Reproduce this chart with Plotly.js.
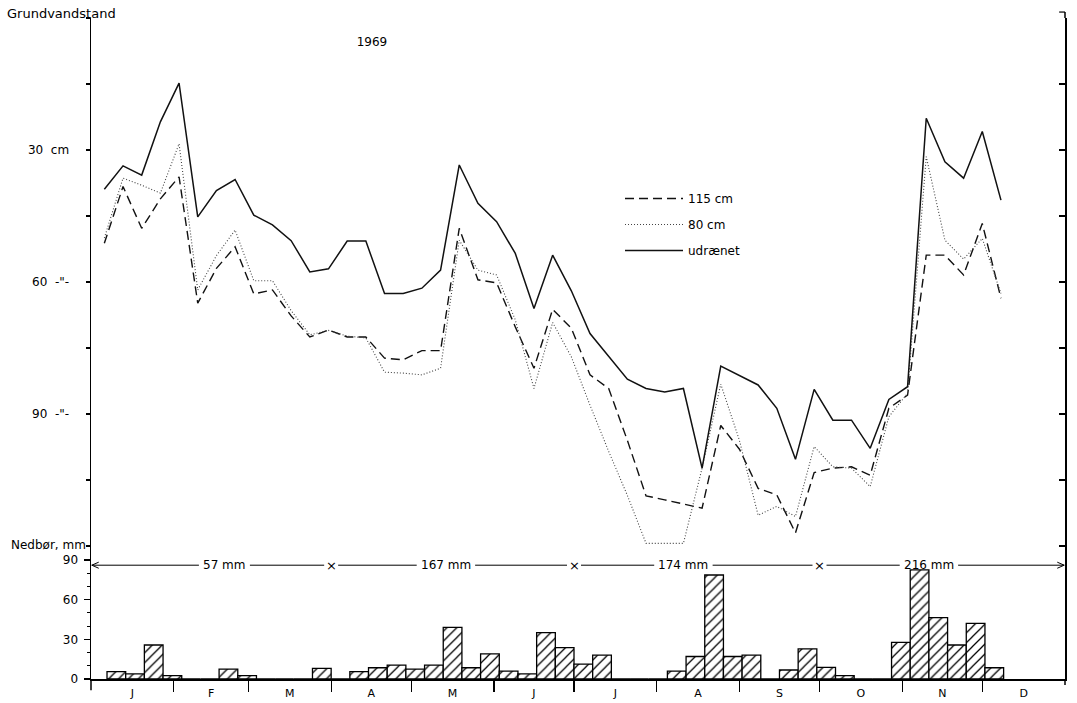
<!DOCTYPE html>
<html><head><meta charset="utf-8">
<script src="https://cdn.plot.ly/plotly-3.0.1.min.js"></script>
<style>html,body{margin:0;padding:0;background:#fff;}#chart{width:1077px;height:703px;}</style>
</head><body><div id="chart"></div>
<script>
// ---------- data ----------
const months = ['J','F','M','A','M','J','J','A','S','O','N','D'];
const monthStarts = [0,31,59,90,120,151,181,212,243,273,304,334,365];

// weekly groundwater readings (day of year 1969), depth below surface in cm
const levelDays = [5,12,19,26,33,40,47,54,61,68,75,82,89,96,103,110,117,124,131,138,145,152,159,166,173,180,187,194,201,208,215,222,229,236,243,250,257,264,271,278,285,292,299,306,313,320,327,334,341];
const depth115 = [51.2,38.3,47.8,41.1,36.1,64.8,56.9,52.0,62.7,61.8,67.7,72.5,70.9,72.5,72.5,77.3,77.7,75.6,75.6,47.8,59.5,60.2,70.2,79.6,66.2,70.5,81.1,84.2,96.0,108.6,109.5,110.5,111.4,92.6,98.0,106.9,108.4,117.0,103.3,102.3,102.0,103.9,88.7,85.7,53.9,53.9,58.4,46.7,63.7];
const depth80 = [50.0,36.4,38.0,39.8,28.6,61.8,54.0,48.2,59.7,59.7,66.5,72.0,71.0,72.3,72.7,80.5,80.7,81.1,79.6,50.5,57.3,58.4,68.6,84.2,69.2,77.0,88.0,98.5,108.5,119.4,119.4,119.4,102.3,83.2,96.0,113.0,111.0,113.3,97.4,102.0,102.3,106.5,90.6,85.3,31.5,50.5,54.8,50.1,62.6];
const undrained = [38.9,33.6,35.7,23.6,14.8,45.2,39.2,36.7,44.8,47.0,50.6,57.7,57.0,50.7,50.7,62.6,62.6,61.4,57.3,33.4,42.1,46.3,53.5,66.0,53.9,62.0,71.7,77.0,82.1,84.2,85.0,84.2,102.3,79.1,81.3,83.4,88.7,100.3,84.4,91.4,91.4,97.8,86.7,83.8,22.8,32.7,36.4,25.8,41.4];
const seriesNames = ['115 cm','80 cm','udrænet'];

// weekly precipitation (week start day, mm)
const rainWeekStarts = [6,13,20,27,34,41,48,55,62,69,76,83,90,97,104,111,118,125,132,139,146,153,160,167,174,181,188,195,202,209,216,223,230,237,244,251,258,265,272,279,286,293,300,307,314,321,328,335];
const rainMm = [5.5,3.8,25.7,2.5,0,0,7.5,2.5,0,0, 0,8,0,5.5,8.5,10.5,7.5,10.5,39,8.5, 19,6,3.8,35,23.7,11.3,18,0,0,0, 6,17,78.6,17,18,0,6.8,22.7,8.8,2.5, 0,0,27.7,82.4,46.4,25.7,42,8.5];

const quarterEnds = [90,181,273];
const quarterTotals = ['57 mm','167 mm','174 mm','216 mm'];

const levelTickVals = [0,15,30,45,60,75,90,105,120];
const levelTickText = ['','','30  cm','','60  -"-','','90  -"-','',''];
const rainTickVals = [0,30,60,90];
const rainMinorVals = [10,20,40,50,70,80];

// ---------- layout constants ----------
const FONT = 'DejaVu Sans, sans-serif';
const W = 1077, H = 703, ML = 91, MR = 12, MT = 18, MB = 24;
const plotW = W - ML - MR, plotH = H - MT - MB;
const pxPerDay = plotW / 365;
const barPanelPx = 131;
const splitFrac = barPanelPx / plotH;
const topRangeMax = 120.45;
const qLineY = 86;
const qLabelDays = [50,133,222,314];

const monthMids = months.map((m,i)=> (monthStarts[i]+monthStarts[i+1])/2);

const traces = [
  {x: levelDays, y: depth115, name: seriesNames[0], type:'scatter', mode:'lines',
   line:{color:'#111', width:1.4, dash:'9px,5px'}, xaxis:'x', yaxis:'y', legendgroup:'a'},
  {x: levelDays, y: depth80, name: seriesNames[1], type:'scatter', mode:'lines',
   line:{color:'#444', width:1.1, dash:'1px,2px'}, xaxis:'x', yaxis:'y', legendgroup:'b'},
  {x: levelDays, y: undrained, name: seriesNames[2], type:'scatter', mode:'lines',
   line:{color:'#111', width:1.5}, xaxis:'x', yaxis:'y', legendgroup:'c'},
  {x: rainWeekStarts, y: rainMm, type:'bar', offset:0, width:7, xaxis:'x', yaxis:'y2',
   showlegend:false, hoverinfo:'x+y',
   marker:{color:'#fff', line:{color:'#000', width:1.3},
     pattern:{shape:'/', size:7, solidity:0.18, fgcolor:'#000', bgcolor:'#fff'}}},
  {x:[null], y:[null], xaxis:'x', yaxis:'y3', showlegend:false, hoverinfo:'skip', type:'scatter'}
];

// quarter arrow line segments
const breaks = [];
quarterTotals.forEach((t,i)=> breaks.push({c:qLabelDays[i], h:(t.length*7.4/2+7)/pxPerDay}));
quarterEnds.forEach(d=> breaks.push({c:d, h:7/pxPerDay}));
breaks.sort((a,b)=>a.c-b.c);
const shapes = [];
let start = 0.3;
breaks.forEach(b=>{
  shapes.push({type:'line', xref:'x', yref:'y2', x0:start, x1:b.c-b.h, y0:qLineY, y1:qLineY, line:{color:'#000', width:1}});
  start = b.c + b.h;
});
shapes.push({type:'line', xref:'x', yref:'y2', x0:start, x1:364.7, y0:qLineY, y1:qLineY, line:{color:'#000', width:1}});
// arrowheads
const ah = 2.6, av = 2.3;
shapes.push({type:'path', xref:'x', yref:'y2', path:`M${0.3+ah},${qLineY+av} L0.3,${qLineY} L${0.3+ah},${qLineY-av}`, line:{color:'#000', width:1}});
shapes.push({type:'path', xref:'x', yref:'y2', path:`M${364.7-ah},${qLineY+av} L364.7,${qLineY} L${364.7-ah},${qLineY-av}`, line:{color:'#000', width:1}});
// axis extensions below baseline / above top
shapes.push({type:'line', xref:'paper', yref:'paper', x0:0, x1:0, y0:0, y1:-0.017, line:{color:'#000', width:1.5}});
shapes.push({type:'line', xref:'paper', yref:'paper', x0:1, x1:1, y0:0, y1:-0.009, line:{color:'#000', width:1.5}});
shapes.push({type:'line', xref:'paper', yref:'paper', x0:1, x1:1, y0:1, y1:1.009, line:{color:'#000', width:1.5}});
shapes.push({type:'line', xref:'paper', yref:'paper', x0:1, x1:0.994, y0:1.009, y1:1.009, line:{color:'#000', width:1.2}});

const annotations = [
  {text:'Grundvandstand', xref:'paper', yref:'paper', x:(5-ML)/plotW, y:(H-MB-14)/plotH, xanchor:'left', yanchor:'middle', showarrow:false, font:{family:FONT, size:13, color:'#000'}},
  {text:'Nedbør, mm', xref:'paper', yref:'paper', x:(9-ML)/plotW, y:(H-MB-545)/plotH, xanchor:'left', yanchor:'middle', showarrow:false, font:{family:FONT, size:12, color:'#000'}}
];
quarterTotals.forEach((t,i)=> annotations.push({text:t, xref:'x', yref:'y2', x:qLabelDays[i], y:qLineY, xanchor:'center', yanchor:'middle', showarrow:false, font:{family:FONT, size:12, color:'#000'}}));
quarterEnds.forEach(d=> annotations.push({text:'×', xref:'x', yref:'y2', x:d, y:qLineY, xanchor:'center', yanchor:'middle', showarrow:false, font:{family:FONT, size:13, color:'#000'}}));

const layout = {
  width:W, height:H, margin:{l:ML, r:MR, t:MT, b:MB},
  paper_bgcolor:'#fff', plot_bgcolor:'#fff',
  font:{family:FONT, size:12, color:'#000'},
  title:{text:'1969', x:372/W, xanchor:'center', y:1-42/H, yanchor:'middle', font:{family:FONT, size:12, color:'#000'}},
  showlegend:true,
  legend:{x:(620-ML)/plotW, y:(H-MB-184)/plotH, xanchor:'left', yanchor:'top', bgcolor:'rgba(0,0,0,0)',
    borderwidth:0, traceorder:'grouped', tracegroupgap:7, itemwidth:58, font:{family:FONT, size:12, color:'#000'}},
  bargap:0,
  xaxis:{anchor:'y2', range:[0,365], showgrid:false, zeroline:false, showline:true, linecolor:'#000', linewidth:1.5,
    tickmode:'array', tickvals:monthMids, ticktext:months, ticks:'', ticklabelstandoff:3,
    tickfont:{family:FONT, size:11, color:'#000'},
    minor:{tickmode:'array', tickvals:monthStarts.slice(1,12), ticks:'outside', ticklen:11, tickwidth:1.3, tickcolor:'#000', showgrid:false}},
  yaxis:{domain:[splitFrac,1], range:[topRangeMax,0], anchor:'x', showgrid:false, zeroline:false,
    showline:true, linecolor:'#000', linewidth:1.5, tickmode:'array', tickvals:levelTickVals, ticktext:levelTickText,
    ticks:'outside', ticklen:4, tickwidth:1.2, tickcolor:'#000', ticklabelstandoff:14,
    tickfont:{family:FONT, size:12, color:'#000'}},
  yaxis3:{overlaying:'y', side:'right', anchor:'x', range:[topRangeMax,0], showgrid:false, zeroline:false,
    showline:true, linecolor:'#000', linewidth:1.5, tickmode:'array', tickvals:levelTickVals,
    ticks:'inside', ticklen:6, tickwidth:1.2, tickcolor:'#000', showticklabels:false},
  yaxis2:{domain:[0,splitFrac], range:[0,99], anchor:'x', showgrid:false, zeroline:false,
    showline:true, mirror:true, linecolor:'#000', linewidth:1.5, tickmode:'array', tickvals:rainTickVals,
    ticks:'outside', ticklen:6, tickwidth:1.2, tickcolor:'#000', ticklabelstandoff:3,
    tickfont:{family:FONT, size:12, color:'#000'},
    minor:{tickmode:'array', tickvals:rainMinorVals, ticks:'outside', ticklen:3, tickwidth:1, tickcolor:'#000', showgrid:false}},
  shapes:shapes,
  annotations:annotations
};

Plotly.newPlot('chart', traces, layout, {displayModeBar:false, staticPlot:true});
</script>
</body></html>
